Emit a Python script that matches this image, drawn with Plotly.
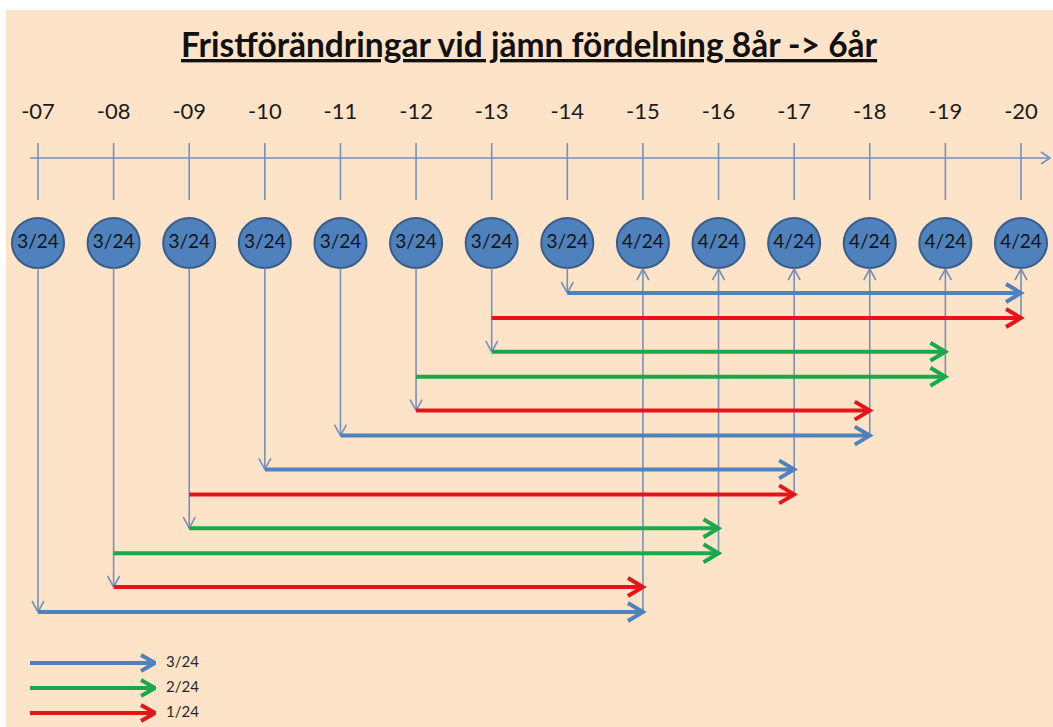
import plotly.graph_objects as go

# ---------------- data ----------------
year_nums = [7, 8, 9, 10, 11, 12, 13, 14, 15, 16, 17, 18, 19, 20]
year_labels = ["-07", "-08", "-09", "-10", "-11", "-12", "-13", "-14",
               "-15", "-16", "-17", "-18", "-19", "-20"]
shares_24 = [3, 3, 3, 3, 3, 3, 3, 3, 4, 4, 4, 4, 4, 4]
share_labels = [f"{s}/24" for s in shares_24]

# transfers, listed top row to bottom row
t_from = [14, 13, 13, 12, 12, 11, 10, 9, 9, 8, 8, 7]
t_to = [20, 20, 19, 19, 18, 18, 17, 17, 16, 16, 15, 15]
t_amount = [3, 1, 2, 2, 1, 3, 3, 1, 2, 2, 1, 3]

legend_amounts = [3, 2, 1]
legend_labels = ["3/24", "2/24", "1/24"]

title_text = "Fristförändringar vid jämn fördelning 8år -> 6år"

# ---------------- style ----------------
BG = "#FDE4C8"
THIN = "#7690B8"
AMOUNT_COLOR = {3: "#4F81BD", 2: "#1CA84A", 1: "#E5141B"}
FONT = "Lato, Carlito, 'Open Sans', sans-serif"

W, H = 1053, 727
ML, MT = 6, 10
X_FIRST_PX = 38.0
STEP_PX = 75.615  # pixels per year


def dx(px):
    return px / STEP_PX


def px_to_x(px):
    return year_nums[0] + (px - X_FIRST_PX) / STEP_PX


x_range = [px_to_x(ML), px_to_x(W)]

CIRCLE_Y = 243
CIRCLE_RY = 25
CIRCLE_RX = 26
CIRCLE_BOTTOM = CIRCLE_Y + CIRCLE_RY
LABEL_Y = 113
AXIS_Y = 158
TICK_TOP, TICK_BOT = 143, 200


def row_y(k):
    return 293 + (k // 2) * 58.8 + (k % 2) * 25


fig = go.Figure()


def add_path(xs, ys, color, width):
    fig.add_trace(go.Scatter(x=xs, y=ys, mode="lines",
                             line=dict(color=color, width=width),
                             hoverinfo="skip", showlegend=False))


def chevron(xs, ys, tx, ty, direction, length_px, half_px):
    if direction == "right":
        xs += [tx - dx(length_px), tx, tx - dx(length_px), None]
        ys += [ty - half_px, ty, ty + half_px, None]
    elif direction == "down":
        xs += [tx - dx(half_px), tx, tx + dx(half_px), None]
        ys += [ty - length_px, ty, ty - length_px, None]
    elif direction == "up":
        xs += [tx - dx(half_px), tx, tx + dx(half_px), None]
        ys += [ty + length_px, ty, ty + length_px, None]


# ---- timeline axis and ticks ----
tx, ty = [], []
tx += [px_to_x(30), px_to_x(1050), None]
ty += [AXIS_Y, AXIS_Y, None]
chevron(tx, ty, px_to_x(1050), AXIS_Y, "right", 9, 6)
for yr in year_nums:
    tx += [yr, yr, None]
    ty += [TICK_TOP, TICK_BOT, None]

# ---- thin vertical connectors ----
rows = [row_y(k) for k in range(len(t_from))]
for yr in sorted(set(t_from)):
    lowest = max(r for r, f in zip(rows, t_from) if f == yr)
    tx += [yr, yr, None]
    ty += [CIRCLE_BOTTOM, lowest, None]
    chevron(tx, ty, yr, lowest, "down", 11, 6)
for yr in sorted(set(t_to)):
    lowest = max(r for r, t in zip(rows, t_to) if t == yr)
    tx += [yr, yr, None]
    ty += [lowest, CIRCLE_BOTTOM + 1, None]
    chevron(tx, ty, yr, CIRCLE_BOTTOM + 1, "up", 11, 6)
add_path(tx, ty, THIN, 1.6)

# ---- thick transfer arrows (grouped by colour) ----
for amt in legend_amounts:
    xs, ys = [], []
    for k, (f, t, a) in enumerate(zip(t_from, t_to, t_amount)):
        if a != amt:
            continue
        y = rows[k]
        xs += [f, t - dx(1.5), None]
        ys += [y, y, None]
        chevron(xs, ys, t, y, "right", 15, 9)
    add_path(xs, ys, AMOUNT_COLOR[amt], 4)

# ---- legend arrows ----
for i, amt in enumerate(legend_amounts):
    y = 663 + i * 25
    xs, ys = [px_to_x(30), px_to_x(153.5), None], [y, y, None]
    chevron(xs, ys, px_to_x(155), y, "right", 14, 8)
    add_path(xs, ys, AMOUNT_COLOR[amt], 4)
fig.add_trace(go.Scatter(
    x=[px_to_x(166)] * 3, y=[663 + i * 25 for i in range(3)],
    mode="text", text=legend_labels, textposition="middle right",
    textfont=dict(family=FONT, size=15, color="#262626"),
    hoverinfo="skip", showlegend=False))

# ---- circles ----
for yr in year_nums:
    fig.add_shape(type="circle", xref="x", yref="y",
                  x0=yr - dx(CIRCLE_RX), x1=yr + dx(CIRCLE_RX),
                  y0=CIRCLE_Y - CIRCLE_RY, y1=CIRCLE_Y + CIRCLE_RY,
                  fillcolor="#4F81BD", line=dict(color="#385D8A", width=2),
                  layer="below")

fig.add_trace(go.Scatter(
    x=year_nums, y=[CIRCLE_Y] * len(year_nums), mode="text",
    text=share_labels, textposition="middle center",
    textfont=dict(family=FONT, size=19, color="#141414"),
    hoverinfo="skip", showlegend=False))

# ---- year labels ----
fig.add_trace(go.Scatter(
    x=year_nums, y=[LABEL_Y] * len(year_nums), mode="text",
    text=year_labels, textposition="middle center",
    textfont=dict(family=FONT, size=22, color="#1a1a1a"),
    hoverinfo="skip", showlegend=False))

# ---- title ----
fig.add_annotation(x=0.5, xref="paper", y=44, yref="y",
                   text=f"<b><u>{title_text}</u></b>", showarrow=False,
                   font=dict(family=FONT, size=33.5, color="#111111"),
                   xanchor="center", yanchor="middle")

fig.update_layout(
    width=W, height=H,
    margin=dict(l=ML, r=0, t=MT, b=0, pad=0),
    paper_bgcolor="white", plot_bgcolor=BG,
    xaxis=dict(range=x_range, visible=False, fixedrange=True),
    yaxis=dict(range=[H, MT], visible=False, fixedrange=True),
    showlegend=False,
)

fig.write_html("out.html",
               config={"displayModeBar": False},
               post_script="document.body.style.margin='0';"
                           "document.body.style.overflow='hidden';")
